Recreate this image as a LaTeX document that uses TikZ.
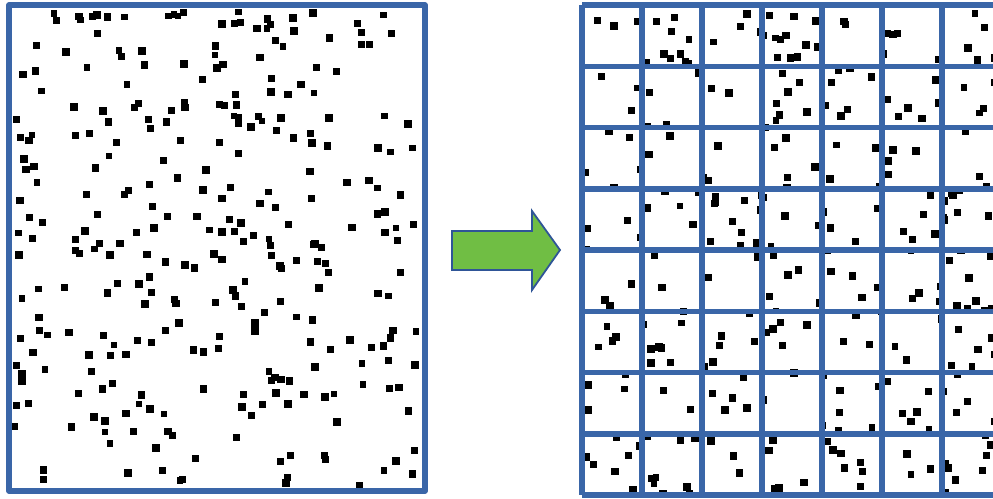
\documentclass[tikz,border=0pt]{standalone}
\definecolor{gridblue}{RGB}{58,102,168}
\definecolor{arrowgreen}{RGB}{112,190,68}
\definecolor{arrowedge}{RGB}{47,85,151}
\tikzset{
  frame/.style={draw=gridblue, line width=5.5pt, line join=round},
  bigarrow/.style={draw=arrowedge, fill=arrowgreen, line width=1.8pt, line join=miter},
}
% one sample point, centred at (#1,#2)
\newcommand{\samplept}[3]{\fill[black] (#1-#3/2,#2-#3/2) rectangle ++(#3,#3);}

\begin{document}
\begin{tikzpicture}[x=1pt, y=-1pt]
\useasboundingbox (0,0) rectangle (993,498);
\clip (0,0) rectangle (993,498);

% Left: scattered points
\pgfmathsetseed{11}
\foreach \i in {1,...,300}{
  \pgfmathsetmacro{\px}{14+405*rnd}
  \pgfmathsetmacro{\py}{12+474*rnd}
  \pgfmathsetmacro{\ps}{6.5+1.5*rnd}
  \samplept{\px}{\py}{\ps}
}
\draw[frame] (9,5) rectangle (425,491);

% Arrow
\draw[bigarrow] (452,231) -- (532,231) -- (532,211) -- (560,250)
  -- (532,290) -- (532,270) -- (452,270) -- cycle;

% Right: points, then the grid on top
\pgfmathsetseed{29}
\foreach \i in {1,...,290}{
  \pgfmathsetmacro{\px}{584+418*rnd}
  \pgfmathsetmacro{\py}{8+486*rnd}
  \pgfmathsetmacro{\ps}{6.5+1.5*rnd}
  \samplept{\px}{\py}{\ps}
}
\foreach \x in {582,642,...,1002}
  \draw[frame] (\x,5) -- (\x,495);
\foreach \r in {0,...,8}
  \draw[frame] (582,5+61.25*\r) -- (1002,5+61.25*\r);

\end{tikzpicture}
\end{document}
